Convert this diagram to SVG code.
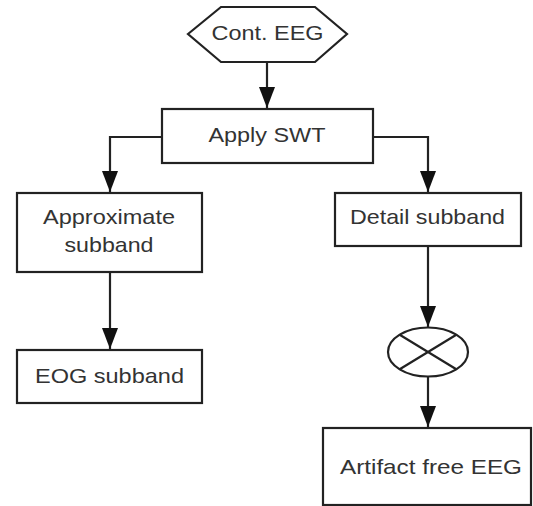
<svg xmlns="http://www.w3.org/2000/svg" width="533" height="506" viewBox="0 0 533 506">
<style>
.box{fill:#fff;stroke:#222;stroke-width:2.2}
.ln{fill:none;stroke:#222;stroke-width:2.2}
.t{font-family:"Liberation Sans",Arial,sans-serif;font-size:21px;fill:#333;text-anchor:middle}
</style>
<defs>
<marker id="ah" markerUnits="userSpaceOnUse" markerWidth="21" markerHeight="16" refX="21" refY="8" orient="auto" viewBox="0 0 21 16">
<path d="M0,0 L21,8 L0,16 Z" fill="#111"/>
</marker>
</defs>
<rect width="533" height="506" fill="#fff"/>
<g id="connectors">
<path class="ln" d="M267,62 V108" marker-end="url(#ah)"/>
<path class="ln" d="M162,137 H110 V192" marker-end="url(#ah)"/>
<path class="ln" d="M373,137 H428 V192" marker-end="url(#ah)"/>
<path class="ln" d="M110,272 V349" marker-end="url(#ah)"/>
<path class="ln" d="M428,246 V327" marker-end="url(#ah)"/>
<path class="ln" d="M428,377 V427" marker-end="url(#ah)"/>
</g>
<g id="cont-eeg">
<polygon class="box" points="188,34 221,7 315,7 347,34 315,62 221,62"/>
<text class="t" x="267.5" y="40" textLength="112" lengthAdjust="spacingAndGlyphs">Cont. EEG</text>
</g>
<g id="apply-swt">
<rect class="box" x="162" y="109" width="211" height="54"/>
<text class="t" x="267" y="142" textLength="117" lengthAdjust="spacingAndGlyphs">Apply SWT</text>
</g>
<g id="approximate">
<rect class="box" x="17" y="193" width="185" height="79"/>
<text class="t" x="109" y="224" textLength="132" lengthAdjust="spacingAndGlyphs">Approximate</text>
<text class="t" x="109" y="252" textLength="89" lengthAdjust="spacingAndGlyphs">subband</text>
</g>
<g id="eog">
<rect class="box" x="17" y="350" width="185" height="53"/>
<text class="t" x="109.5" y="383" textLength="149" lengthAdjust="spacingAndGlyphs">EOG subband</text>
</g>
<g id="detail">
<rect class="box" x="335" y="193" width="186" height="53"/>
<text class="t" x="427.5" y="224" textLength="155" lengthAdjust="spacingAndGlyphs">Detail subband</text>
</g>
<g id="multiply">
<ellipse class="box" cx="428" cy="352" rx="40" ry="24.5"/>
<path class="ln" d="M399.7,334.7 L456.3,369.3 M456.3,334.7 L399.7,369.3"/>
</g>
<g id="artifact-free">
<rect class="box" x="323" y="428" width="208" height="77"/>
<text class="t" x="431" y="474" textLength="182" lengthAdjust="spacingAndGlyphs">Artifact free EEG</text>
</g>
</svg>
